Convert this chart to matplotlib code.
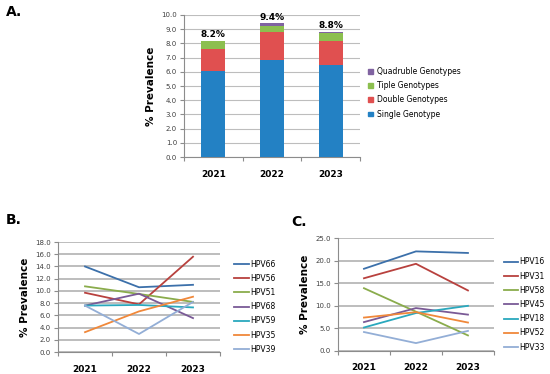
import numpy as np
import matplotlib.pyplot as plt
from matplotlib.lines import Line2D
from matplotlib.patches import Patch

plt.rcParams['font.family'] = ['DejaVu Sans']

years = ['2021', '2022', '2023']

# panel A - stacked prevalence by number of genotypes
single = [6.05, 6.85, 6.50]
double = [1.55, 1.95, 1.70]
triple = [0.55, 0.45, 0.50]
quad = [0.05, 0.15, 0.10]
totals = ['8.2%', '9.4%', '8.8%']
a_names = ['Single Genotype', 'Double Genotypes', 'Tiple Genotypes', 'Quadruble Genotypes']
a_colors = ['#2381c4', '#e05050', '#8cbf4f', '#8063a1']

# panel B
b_names = ['HPV66', 'HPV56', 'HPV51', 'HPV68', 'HPV59', 'HPV35', 'HPV39']
b_vals = [
    [14.0, 10.6, 11.0],
    [9.7, 7.8, 15.6],
    [10.75, 9.5, 8.2],
    [7.6, 9.55, 5.55],
    [7.6, 7.7, 7.3],
    [3.25, 6.65, 9.05],
    [7.6, 2.95, 8.2],
]

# panel C
c_names = ['HPV16', 'HPV31', 'HPV58', 'HPV45', 'HPV18', 'HPV52', 'HPV33']
c_vals = [
    [18.2, 22.05, 21.7],
    [16.1, 19.3, 13.4],
    [13.9, 8.7, 3.45],
    [6.4, 9.5, 8.05],
    [5.2, 8.4, 10.0],
    [7.4, 8.6, 6.3],
    [4.2, 1.75, 4.45],
]

line_colors = ['#3c70aa', '#b8413e', '#8aac4c', '#7a5a96', '#2aa8bd', '#f0883a', '#93aed6']

grid_c = '#bdbdbd'
axis_c = '#8c8c8c'


def style_axes(ax, ymax, ystep, gw):
    ax.set_xlim(-0.5, 2.5)
    ax.set_ylim(0, ymax)
    ax.set_yticks(np.arange(0, ymax + 0.01, ystep))
    ax.set_yticklabels(['%.1f' % v for v in np.arange(0, ymax + 0.01, ystep)])
    ax.set_xticks(range(3))
    ax.set_xticklabels(years, fontweight='bold', fontsize=6.5)
    ax.set_xticks([-0.5, 0.5, 1.5, 2.5], minor=True)
    ax.tick_params(axis='x', which='major', length=0, pad=9)
    ax.tick_params(axis='x', which='minor', length=3, color=axis_c, width=0.8)
    ax.tick_params(axis='y', length=3, color=axis_c, width=0.8, labelsize=5, pad=2, labelcolor='#404040')
    for s in ['top', 'right']:
        ax.spines[s].set_visible(False)
    for s in ['left', 'bottom']:
        ax.spines[s].set_color(axis_c)
        ax.spines[s].set_linewidth(0.8)
    ax.yaxis.grid(True, color=grid_c, linewidth=gw)
    ax.set_axisbelow(True)
    ax.set_ylabel('% Prevalence', fontweight='bold', fontsize=7.5, labelpad=4)


fig = plt.figure(figsize=(5.5, 3.74), dpi=100)

# A
axA = fig.add_axes([0.3345, 0.580, 0.32, 0.380])
x = np.arange(3)
bottom = np.zeros(3)
for vals, col, name in zip([single, double, triple, quad], a_colors, a_names):
    axA.bar(x, vals, 0.41, bottom=bottom, color=col, label=name, zorder=3)
    bottom = bottom + np.array(vals)
for xi, top, t in zip(x, bottom, totals):
    axA.text(xi, top + 0.12, t, ha='center', va='bottom', fontsize=6.5, fontweight='bold')
style_axes(axA, 10, 1, 0.8)
handles = [Patch(color=c) for c in a_colors][::-1]
fig.legend(handles, a_names[::-1], loc='upper left', bbox_to_anchor=(0.657, 0.839),
           frameon=False, fontsize=5.5, handlelength=0.6, handleheight=0.6,
           handletextpad=0.5, labelspacing=0.68)

# B
axB = fig.add_axes([0.1055, 0.0588, 0.2945, 0.294])
for vals, col in zip(b_vals, line_colors):
    axB.plot(x, vals, color=col, linewidth=1.3, zorder=3)
style_axes(axB, 18, 2, 1.4)
hB = [Line2D([], [], color=c, linewidth=1.3) for c in line_colors]
fig.legend(hB, b_names, loc='upper left', bbox_to_anchor=(0.413, 0.324),
           frameon=False, fontsize=5.5, handlelength=1.9, handletextpad=0.2,
           labelspacing=0.68)

# C
axC = fig.add_axes([0.6145, 0.0615, 0.2836, 0.302])
for vals, col in zip(c_vals, line_colors):
    axC.plot(x, vals, color=col, linewidth=1.3, zorder=3)
style_axes(axC, 25, 5, 1.4)
fig.legend(hB, c_names, loc='upper left', bbox_to_anchor=(0.903, 0.330),
           frameon=False, fontsize=5.5, handlelength=1.9, handletextpad=0.2,
           labelspacing=0.68)

fig.text(0.010, 0.987, 'A.', fontsize=10, fontweight='bold', va='top')
fig.text(0.010, 0.430, 'B.', fontsize=10, fontweight='bold', va='top')
fig.text(0.530, 0.425, 'C.', fontsize=10, fontweight='bold', va='top')

fig.savefig('out.png', dpi=100)
